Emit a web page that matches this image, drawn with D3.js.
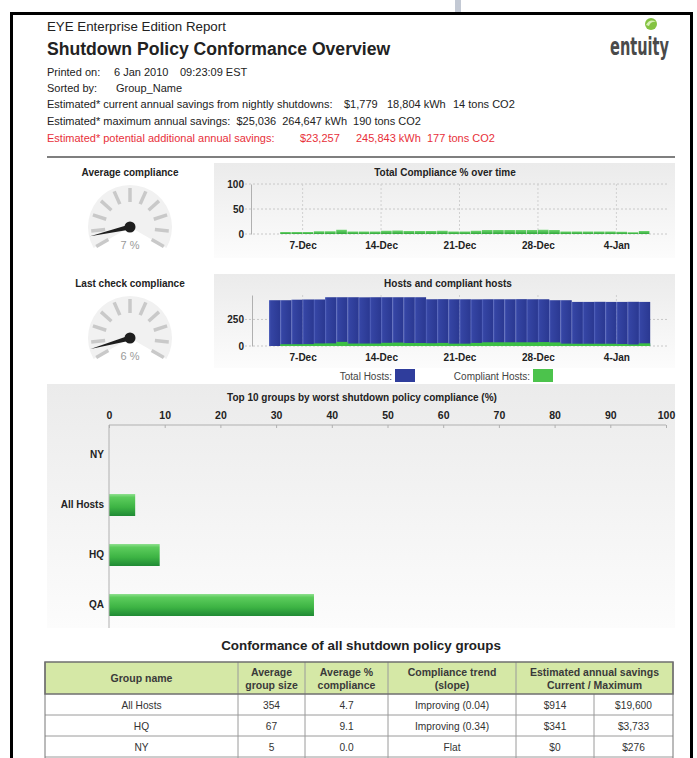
<!DOCTYPE html>
<html>
<head>
<meta charset="utf-8">
<script src="https://cdn.jsdelivr.net/npm/d3@7"></script>
<style>
body { margin: 0; background: #fff; }
svg text { font-family: "Liberation Sans", Arial, sans-serif; }
</style>
</head>
<body>
<div id="chart"></div>
<script>
// ---- data ----
var days = ["2009-12-04","2009-12-05","2009-12-06","2009-12-07","2009-12-08","2009-12-09","2009-12-10",
  "2009-12-11","2009-12-12","2009-12-13","2009-12-14","2009-12-15","2009-12-16","2009-12-17",
  "2009-12-18","2009-12-19","2009-12-20","2009-12-21","2009-12-22","2009-12-23","2009-12-24",
  "2009-12-25","2009-12-26","2009-12-27","2009-12-28","2009-12-29","2009-12-30","2009-12-31",
  "2010-01-01","2010-01-02","2010-01-03","2010-01-04","2010-01-05","2010-01-06"];
var compliancePct = [0,4,4,4,5.5,5.5,8.5,5,5,5,6.5,7,6,6,6,6.5,5,5,6.5,8,8,8,8,8,8.5,8,5,5,5,5,5,4.5,3.5,6];
var totalHosts = [431,431,436,438,438,459,459,459,458,459,459,459,459,459,440,441,440,440,439,440,440,
  440,441,440,440,431,431,415,415,416,415,415,416,415];
var compliantHosts = [0,17,17,18,24,25,39,23,23,23,30,32,28,28,26,29,22,22,29,35,35,35,35,35,37,34,22,21,21,21,21,19,15,25];
var weekTicks = ["2009-12-07","2009-12-14","2009-12-21","2009-12-28","2010-01-04"];

var avgCompliance = 7;
var lastCompliance = 6;

var groupNames = ["NY", "All Hosts", "HQ", "QA"];
var groupCompliance = [0, 4.7, 9.1, 36.8];
var pctTicks = [0,10,20,30,40,50,60,70,80,90,100];

var tableGroups = ["All Hosts", "HQ", "NY"];
var tableSize = ["354", "67", "5"];
var tableAvg = ["4.7", "9.1", "0.0"];
var tableTrend = ["Improving (0.04)", "Improving (0.34)", "Flat"];
var tableCurrent = ["$914", "$341", "$0"];
var tableMax = ["$19,600", "$3,733", "$276"];

var W = 697, H = 758;
var parse = d3.timeParse("%Y-%m-%d");
var dates = days.map(parse);

var svg = d3.select("#chart").append("svg")
  .attr("width", W).attr("height", H);

var defs = svg.append("defs");
function grad(id, vertical, stops) {
  var g = defs.append("linearGradient").attr("id", id)
    .attr("x1", 0).attr("y1", 0).attr("x2", vertical ? 0 : 1).attr("y2", vertical ? 1 : 0);
  stops.forEach(function(s) { g.append("stop").attr("offset", s[0]).attr("stop-color", s[1]); });
}
grad("panelGrad", true, [[0, "#ebebeb"], [1, "#fcfcfc"]]);
grad("blueGrad", false, [[0, "#5868c0"], [0.15, "#3545a4"], [1, "#2a3891"]]);
grad("greenGrad", true, [[0, "#6fd66f"], [1, "#2fa83a"]]);
grad("barGrad", true, [[0, "#8fe08f"], [0.15, "#5ccc5c"], [0.6, "#3db444"], [1, "#1f8a34"]]);

// ---- page frame ----
svg.append("rect").attr("x", 455).attr("y", 0).attr("width", 6).attr("height", 12).attr("fill", "#c3c9d4");
svg.append("rect").attr("x", 11.5).attr("y", 13.5).attr("width", 680).attr("height", 800)
  .attr("fill", "none").attr("stroke", "#000").attr("stroke-width", 3);

// ---- header ----
svg.append("text").attr("x", 47).attr("y", 31).attr("font-size", 13.3).attr("fill", "#222")
  .text("EYE Enterprise Edition Report");
svg.append("text").attr("x", 47).attr("y", 55).attr("font-size", 17.6).attr("font-weight", "bold").attr("fill", "#222")
  .text("Shutdown Policy Conformance Overview");

var info = [
  {y: 76, c: "#222", parts: [[47, "Printed on:"], [114, "6 Jan 2010"], [180, "09:23:09 EST"]]},
  {y: 92, c: "#222", parts: [[47, "Sorted by:"], [116, "Group_Name"]]},
  {y: 108, c: "#222", parts: [[47, "Estimated* current annual savings from nightly shutdowns:"], [344, "$1,779"], [387, "18,804 kWh"], [453, "14 tons CO2"]]},
  {y: 125, c: "#222", parts: [[47, "Estimated* maximum annual savings:"], [227, "$25,036"], [279, "264,647 kWh"], [353, "190 tons CO2"]]},
  {y: 142, c: "#e8303a", parts: [[47, "Estimated* potential additional annual savings:"], [300, "$23,257"], [356, "245,843 kWh"], [427, "177 tons CO2"]]}
];
info.forEach(function(line) {
  var end = 0;
  line.parts.forEach(function(p) {
    var t = svg.append("text").attr("x", Math.max(p[0], end + 6)).attr("y", line.y)
      .attr("font-size", 11).attr("fill", line.c).text(p[1]);
    var bb = t.node().getBBox();
    end = bb.x + bb.width;
  });
});

svg.append("line").attr("x1", 47).attr("x2", 675).attr("y1", 157).attr("y2", 157)
  .attr("stroke", "#555").attr("stroke-width", 1.5);

// logo
svg.append("circle").attr("cx", 651).attr("cy", 24).attr("r", 6).attr("fill", "#84c341");
svg.append("path").attr("d", "M646,25 Q650,18 656,22 Q651,21 649,26 Z").attr("fill", "#d8f0b8");
svg.append("text").attr("x", 610).attr("y", 55).attr("font-size", 24).attr("font-weight", "bold")
  .attr("fill", "#4a4a4a").attr("textLength", 59).attr("lengthAdjust", "spacingAndGlyphs")
  .style("font-family", "'DejaVu Sans Condensed', 'Liberation Sans Narrow', sans-serif")
  .text("entuity");

// ---- gauges ----
function gauge(cx, cy, title, value) {
  var g = svg.append("g").attr("transform", "translate(" + cx + "," + cy + ")");
  g.append("text").attr("x", 0).attr("y", -51).attr("text-anchor", "middle")
    .attr("font-size", 10).attr("font-weight", "bold").attr("fill", "#222").text(title);
  g.append("path").attr("d", d3.arc()({innerRadius: 0, outerRadius: 42, startAngle: -2 * Math.PI / 3, endAngle: 2 * Math.PI / 3}))
    .attr("fill", "#f1f1f1");
  var a = d3.scaleLinear().domain([0, 100]).range([210, -30]);
  g.selectAll(".tk").data(d3.range(0, 101, 10)).join("line")
    .attr("x1", function(d) { return 25 * Math.cos(a(d) * Math.PI / 180); })
    .attr("y1", function(d) { return -25 * Math.sin(a(d) * Math.PI / 180); })
    .attr("x2", function(d) { return 39 * Math.cos(a(d) * Math.PI / 180); })
    .attr("y2", function(d) { return -39 * Math.sin(a(d) * Math.PI / 180); })
    .attr("stroke", "#c9c9c9").attr("stroke-width", 3.5);
  g.append("text").attr("x", 0).attr("y", 22).attr("text-anchor", "middle")
    .attr("font-size", 11).attr("fill", "#9a9a9a").text(value + " %");
  var ang = a(value) * Math.PI / 180;
  var tx = 41 * Math.cos(ang), ty = -41 * Math.sin(ang);
  var px = 2.6 * Math.sin(ang), py = 2.6 * Math.cos(ang);
  g.append("path").attr("d", "M" + px + "," + py + "L" + tx + "," + ty + "L" + (-px) + "," + (-py) + "Z")
    .attr("fill", "#1e1e1e");
  g.append("circle").attr("r", 5.5).attr("fill", "#1e1e1e");
}
gauge(130, 227, "Average compliance", avgCompliance);
gauge(130, 338, "Last check compliance", lastCompliance);

// ---- time charts ----
var x = d3.scaleTime().domain([parse("2009-12-04"), parse("2010-01-07")]).range([269, 650]);
var weekDates = weekTicks.map(parse);
function dayW(d) { return x(d3.timeDay.offset(d, 1)) - x(d); }

function panel(x0, y0, w, h) {
  svg.append("rect").attr("x", x0).attr("y", y0).attr("width", w).attr("height", h).attr("fill", "url(#panelGrad)");
}
function styleAxis(g) {
  g.selectAll("text").attr("font-size", 10).attr("font-weight", "bold").attr("fill", "#222")
    .style("font-family", "'Liberation Sans', Arial, sans-serif");
  g.selectAll("path.domain").attr("stroke", "#b0b0b0");
}

// Total compliance % over time
panel(214, 163, 461, 95);
svg.append("text").attr("x", 445).attr("y", 176).attr("text-anchor", "middle")
  .attr("font-size", 10).attr("font-weight", "bold").attr("fill", "#222").text("Total Compliance % over time");
var yC = d3.scaleLinear().domain([0, 100]).range([234, 184]);
svg.selectAll(".gc").data([0, 50, 100]).join("line")
  .attr("x1", 245).attr("x2", 667).attr("y1", function(d) { return yC(d); }).attr("y2", function(d) { return yC(d); })
  .attr("stroke", "#c8c8c8").attr("stroke-dasharray", "2,2");
svg.selectAll(".gcv").data(weekDates).join("line")
  .attr("x1", function(d) { return x(d); }).attr("x2", function(d) { return x(d); })
  .attr("y1", 184).attr("y2", 234).attr("stroke", "#d0d0d0").attr("stroke-dasharray", "2,2");
svg.selectAll(".cb").data(dates).join("rect")
  .attr("x", function(d) { return x(d); })
  .attr("width", function(d) { return dayW(d) - 0.6; })
  .attr("y", function(d, i) { return yC(compliancePct[i]); })
  .attr("height", function(d, i) { return yC(0) - yC(compliancePct[i]); })
  .attr("fill", "url(#greenGrad)");
svg.append("g").attr("transform", "translate(251,0)")
  .call(d3.axisLeft(yC).tickValues([0, 50, 100]).tickSize(0).tickSizeOuter(0).tickPadding(7))
  .call(styleAxis);
svg.append("g").attr("transform", "translate(0,234)")
  .call(d3.axisBottom(x).tickValues(weekDates).tickFormat(d3.timeFormat("%-d-%b")).tickSize(0).tickPadding(8))
  .call(styleAxis)
  .call(function(g) { g.select(".domain").remove(); });

// Hosts and compliant hosts
panel(214, 274, 461, 94);
svg.append("text").attr("x", 448).attr("y", 287).attr("text-anchor", "middle")
  .attr("font-size", 10).attr("font-weight", "bold").attr("fill", "#222").text("Hosts and compliant hosts");
var yH = d3.scaleLinear().domain([0, 480]).range([346, 295]);
svg.selectAll(".gh").data([0, 250]).join("line")
  .attr("x1", 245).attr("x2", 667).attr("y1", function(d) { return yH(d); }).attr("y2", function(d) { return yH(d); })
  .attr("stroke", "#c8c8c8").attr("stroke-dasharray", "2,2");
svg.selectAll(".ghv").data(weekDates).join("line")
  .attr("x1", function(d) { return x(d); }).attr("x2", function(d) { return x(d); })
  .attr("y1", 295).attr("y2", 346).attr("stroke", "#d0d0d0").attr("stroke-dasharray", "2,2");
svg.selectAll(".hb").data(dates).join("rect")
  .attr("x", function(d) { return x(d); })
  .attr("width", function(d) { return dayW(d) + 0.2; })
  .attr("y", function(d, i) { return yH(totalHosts[i]); })
  .attr("height", function(d, i) { return yH(0) - yH(totalHosts[i]); })
  .attr("fill", "url(#blueGrad)");
svg.selectAll(".chb").data(dates).join("rect")
  .attr("x", function(d) { return x(d); })
  .attr("width", function(d) { return dayW(d) + 0.2; })
  .attr("y", function(d, i) { return yH(compliantHosts[i]); })
  .attr("height", function(d, i) { return yH(0) - yH(compliantHosts[i]); })
  .attr("fill", "#3cc043");
svg.append("g").attr("transform", "translate(252,0)")
  .call(d3.axisLeft(yH).tickValues([0, 250]).tickSize(0).tickSizeOuter(0).tickPadding(8))
  .call(styleAxis);
svg.append("g").attr("transform", "translate(0,346)")
  .call(d3.axisBottom(x).tickValues(weekDates).tickFormat(d3.timeFormat("%-d-%b")).tickSize(0).tickPadding(8))
  .call(styleAxis)
  .call(function(g) { g.select(".domain").remove(); });

// legend
var legend = [
  {label: "Total Hosts:", end: 392, fill: "#2f3d9c"},
  {label: "Compliant Hosts:", end: 530, fill: "#4cc34c"}
];
legend.forEach(function(l) {
  svg.append("text").attr("x", l.end).attr("y", 380).attr("text-anchor", "end")
    .attr("font-size", 10).attr("fill", "#444").text(l.label);
  svg.append("rect").attr("x", l.end + 3).attr("y", 369).attr("width", 20).attr("height", 13).attr("fill", l.fill);
});

// ---- top 10 groups bar chart ----
panel(47, 384, 628, 244);
svg.append("text").attr("x", 362).attr("y", 401).attr("text-anchor", "middle")
  .attr("font-size", 10).attr("font-weight", "bold").attr("fill", "#222")
  .text("Top 10 groups by worst shutdown policy compliance (%)");
var xb = d3.scaleLinear().domain([0, 100]).range([109, 666]);
var yb = d3.scaleBand().domain(groupNames).range([430, 630]).paddingInner(0.56).paddingOuter(0.28);
svg.selectAll(".gb").data(groupNames).join("rect")
  .attr("x", xb(0))
  .attr("y", function(d) { return yb(d); })
  .attr("width", function(d, i) { return xb(groupCompliance[i]) - xb(0); })
  .attr("height", yb.bandwidth())
  .attr("fill", "url(#barGrad)");
svg.append("g").attr("transform", "translate(0,425)")
  .call(d3.axisTop(xb).tickValues(pctTicks).tickSize(-3).tickSizeOuter(0).tickPadding(6))
  .call(styleAxis)
  .call(function(g) {
    g.select(".domain").attr("d", "M" + xb(0) + ",0H" + xb(100));
    g.selectAll(".tick line").attr("stroke", "#b0b0b0");
    g.selectAll("text").attr("font-size", 10.5);
  });
svg.append("g").attr("transform", "translate(109,0)")
  .call(d3.axisLeft(yb).tickSize(0).tickSizeOuter(0).tickPadding(5))
  .call(styleAxis)
  .call(function(g) { g.select(".domain").attr("d", "M0,425V628"); });

// ---- table ----
svg.append("text").attr("x", 361).attr("y", 650).attr("text-anchor", "middle")
  .attr("font-size", 13.4).attr("font-weight", "bold").attr("fill", "#222")
  .text("Conformance of all shutdown policy groups");

var cols = [45, 238, 305, 388, 516, 594, 673];
var headTop = 662, headBot = 694, rowH = 21;
svg.append("rect").attr("x", cols[0]).attr("y", headTop).attr("width", cols[6] - cols[0]).attr("height", headBot - headTop)
  .attr("fill", "#d5e8a6");
tableGroups.forEach(function(name, i) {
  var y0 = headBot + i * rowH;
  var cells = [name, tableSize[i], tableAvg[i], tableTrend[i], tableCurrent[i], tableMax[i]];
  cells.forEach(function(c, j) {
    svg.append("text").attr("x", (cols[j] + cols[j + 1]) / 2).attr("y", y0 + 14.5)
      .attr("text-anchor", "middle").attr("font-size", 10.2).attr("fill", "#333").text(c);
  });
  svg.append("line").attr("x1", cols[0]).attr("x2", cols[6]).attr("y1", y0 + rowH).attr("y2", y0 + rowH)
    .attr("stroke", "#9a9a9a");
});
// vertical lines
cols.forEach(function(cx, j) {
  var top = (j === 5) ? headBot : headTop;
  svg.append("line").attr("x1", cx).attr("x2", cx).attr("y1", top).attr("y2", H)
    .attr("stroke", j === 0 || j === 6 ? "#777" : "#9a9a9a").attr("stroke-width", 1);
});
svg.append("rect").attr("x", cols[0]).attr("y", headTop).attr("width", cols[6] - cols[0]).attr("height", headBot - headTop)
  .attr("fill", "none").attr("stroke", "#6f6f6f").attr("stroke-width", 1.5);
var heads = [
  {x: (cols[0] + cols[1]) / 2, lines: ["Group name"]},
  {x: (cols[1] + cols[2]) / 2, lines: ["Average", "group size"]},
  {x: (cols[2] + cols[3]) / 2, lines: ["Average %", "compliance"]},
  {x: (cols[3] + cols[4]) / 2, lines: ["Compliance trend", "(slope)"]},
  {x: (cols[4] + cols[6]) / 2, lines: ["Estimated annual savings", "Current / Maximum"]}
];
heads.forEach(function(h) {
  h.lines.forEach(function(t, k) {
    var y = h.lines.length === 1 ? 682 : 676 + k * 13;
    svg.append("text").attr("x", h.x).attr("y", y).attr("text-anchor", "middle")
      .attr("font-size", 10.5).attr("font-weight", "bold").attr("fill", "#3a3a3a").text(t);
  });
});
</script>
</body>
</html>
